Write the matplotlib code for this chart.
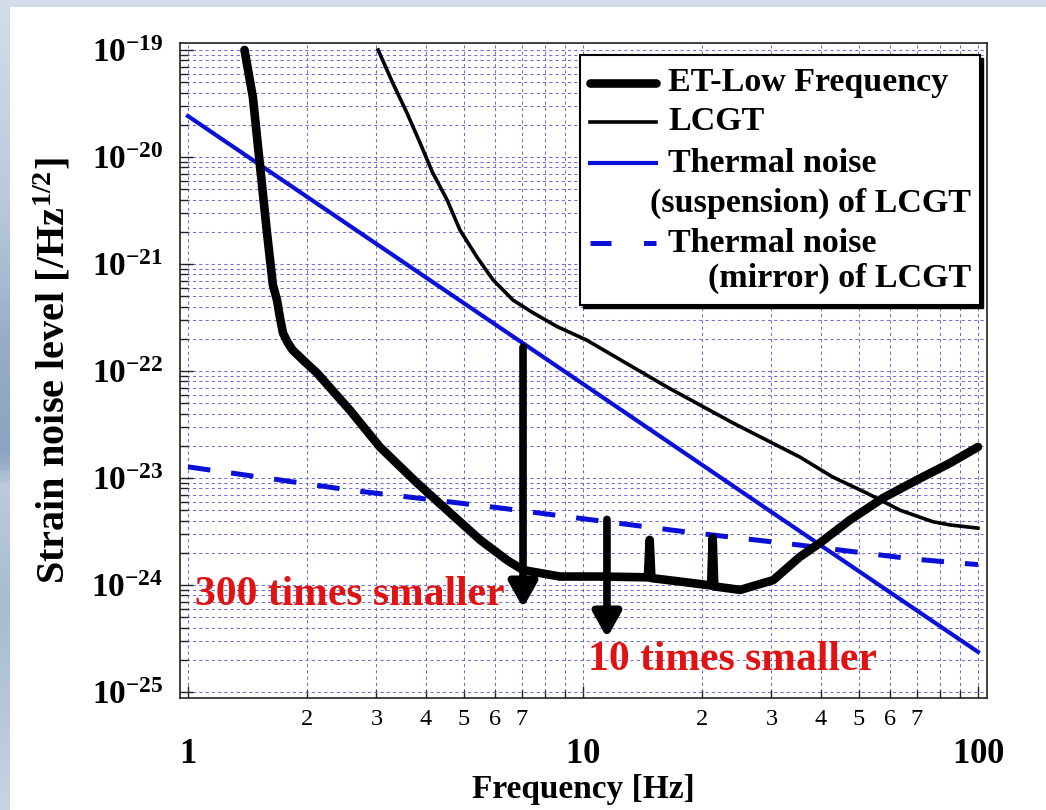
import numpy as np
import matplotlib
matplotlib.use('Agg')
import matplotlib.pyplot as plt
from matplotlib.ticker import FixedLocator, FuncFormatter, NullFormatter
from matplotlib.patches import Rectangle
from matplotlib.colors import LinearSegmentedColormap

plt.rcParams['font.family'] = ['Liberation Serif', 'DejaVu Serif']
plt.rcParams['mathtext.fontset'] = 'custom'
plt.rcParams['mathtext.rm'] = 'Liberation Serif:bold'
plt.rcParams['mathtext.it'] = 'Liberation Serif:bold'
plt.rcParams['mathtext.bf'] = 'Liberation Serif:bold'
plt.rcParams['mathtext.default'] = 'rm'

# ET low frequency sensitivity
et_freq = [1.39, 1.46, 1.52, 1.585, 1.64, 1.68, 1.71, 1.74, 1.79, 1.84, 1.98,
           2.12, 2.57, 3.06, 3.80, 4.53, 5.49, 6.42, 7.05, 8.74, 11.0, 14.6,
           14.75, 14.9, 17.5, 21.1, 21.3, 21.5, 25.0, 30.3, 35.4, 39.8, 47.4,
           57.5, 70.1, 85.0, 100.0]
et_noise = [1.0e-19, 3.6e-20, 8.6e-21, 1.95e-21, 6.4e-22, 4.6e-22, 3.13e-22,
            2.26e-22, 1.83e-22, 1.57e-22, 1.21e-22, 9.6e-23, 4.3e-23, 1.95e-23,
            9.0e-24, 5.0e-24, 2.64e-24, 1.71e-24, 1.38e-24, 1.2e-24, 1.2e-24,
            1.18e-24, 2.64e-24, 1.16e-24, 1.08e-24, 9.9e-25, 2.75e-24, 9.7e-25,
            9.0e-25, 1.11e-24, 1.83e-24, 2.47e-24, 4.05e-24, 6.5e-24, 9.6e-24,
            1.38e-23, 1.95e-23]

# LCGT sensitivity
lcgt_freq = [3.03, 3.30, 3.58, 3.87, 4.15, 4.53, 4.88, 5.39, 5.92, 6.65, 7.47,
             8.60, 10.2, 16.3, 24.0, 35.4, 42.9, 52.4, 63.5, 76.9, 85.0, 100.0]
lcgt_noise = [1.0e-19, 4.9e-20, 2.6e-20, 1.35e-20, 7.3e-21, 3.96e-21, 2.08e-21,
              1.16e-21, 7.1e-22, 4.6e-22, 3.5e-22, 2.6e-22, 1.95e-22, 7.1e-23,
              3.26e-23, 1.57e-23, 1.02e-23, 7.2e-24, 5.0e-24, 3.9e-24, 3.64e-24,
              3.4e-24]

# suspension thermal noise of LCGT
susp_freq = [1.0, 3.0, 10.0, 30.0, 100.0]
susp_noise = [2.41e-20, 1.54e-21, 7.57e-23, 4.81e-24, 2.37e-25]

# mirror thermal noise of LCGT
mirr_freq = [1.0, 1.64, 2.57, 3.94, 6.16, 9.67, 18.3, 35.4, 68.4, 100.0]
mirr_noise = [1.27e-23, 9.8e-24, 7.7e-24, 6.4e-24, 5.25e-24, 4.23e-24,
              3.13e-24, 2.36e-24, 1.75e-24, 1.55e-24]

# improvement arrows
arrow_freq = [7.05, 11.5]
arrow_top = [1.67e-22, 4.1e-24]
arrow_tip = [6.1e-25, 3.2e-25]
note_text = ['300 times smaller', '10 times smaller']
note_freq = [1.04, 10.3]
note_noise = [8.1e-25, 2.0e-25]

legend_rows = ['ET-Low Frequency', 'LCGT', 'Thermal noise', 'Thermal noise']
legend_sub = ['(suspension) of LCGT', '(mirror) of LCGT']

x_major = [1, 10, 100]
x_minor = [m * d for d in (1, 10) for m in range(2, 10)]
y_exps = list(range(-25, -18))
y_minor = [m * 10.0 ** e for e in range(-25, -19) for m in range(2, 10)]

W, H = 1046, 810
fig = plt.figure(figsize=(W / 100, H / 100), dpi=100)
fig.patch.set_facecolor('white')

# slide background: thin bluish strips at the top and on the left
fig.patches.append(Rectangle((0, (H - 7) / H), 1, 7 / H, transform=fig.transFigure,
                             facecolor='#d3dde9', edgecolor='none', zorder=-5))
strip = fig.add_axes([0, 0, 10 / W, 1], zorder=-4)
cmap = LinearSegmentedColormap.from_list('strip', [
    (0.0, '#d3dde9'), (0.25, '#b9c9db'), (0.42, '#97adc8'), (0.56, '#8aa3c0'),
    (0.6, '#bccbdc'), (0.75, '#a7bbd1'), (1.0, '#c6d3e2')])
strip.imshow(np.linspace(0, 1, 200)[:, None], aspect='auto', cmap=cmap,
             extent=[0, 1, 0, 1], origin='upper')
strip.axis('off')

ax = fig.add_axes([180 / W, (H - 698) / H, 807 / W, 655 / H], zorder=2)
ax.set_xscale('log')
ax.set_yscale('log')
ax.set_xlim(0.9545, 105.4)
ax.set_ylim(10 ** -25.056, 10 ** -18.935)

ax.plot(et_freq, et_noise, color='black', lw=6.2, solid_joinstyle='round',
        solid_capstyle='round', zorder=4)
ax.plot(lcgt_freq, lcgt_noise, color='black', lw=2.6, zorder=4)
ax.plot(susp_freq, susp_noise, color='#0a10d8', lw=3.0, zorder=3)
ax.plot(mirr_freq, mirr_noise, color='#0a10d8', lw=3.6, dashes=(4.5, 4.2), zorder=3)

for f, top, tip in zip(arrow_freq, arrow_top, arrow_tip):
    ax.annotate('', xy=(f, tip), xytext=(f, top),
                arrowprops=dict(arrowstyle='-|>,head_length=0.75,head_width=0.42',
                                mutation_scale=20, lw=5.5, color='black',
                                shrinkA=0, shrinkB=0), zorder=5)

for txt, f, n in zip(note_text, note_freq, note_noise):
    ax.text(f, n, txt, color='#e01212', fontsize=30, fontweight='bold',
            ha='left', va='center', zorder=6)

# grid and ticks
ax.xaxis.set_major_locator(FixedLocator(x_major))
ax.xaxis.set_minor_locator(FixedLocator(x_minor))
ax.yaxis.set_major_locator(FixedLocator([10.0 ** e for e in y_exps]))
ax.yaxis.set_minor_locator(FixedLocator(y_minor))
ax.xaxis.set_major_formatter(FuncFormatter(lambda v, p: '$%d$' % round(v)))


def minor_x(v, p):
    m = int(round(v / 10 ** np.floor(np.log10(v) + 1e-9)))
    return str(m) if 2 <= m <= 7 else ''


ax.xaxis.set_minor_formatter(FuncFormatter(minor_x))
ax.yaxis.set_major_formatter(FuncFormatter(
    lambda v, p: '$10^{%d}$' % round(np.log10(v))))
ax.yaxis.set_minor_formatter(NullFormatter())

ax.tick_params(which='both', direction='in', top=False, right=False,
               color='#222222', width=1.0)
ax.tick_params(which='major', length=9)
ax.tick_params(which='minor', length=6)
ax.tick_params(axis='x', which='major', labelsize=25, pad=29)
ax.tick_params(axis='x', which='minor', labelsize=17.5, pad=8)
ax.tick_params(axis='y', which='major', labelsize=24, pad=12)

ax.set_axisbelow(True)
ax.grid(True, which='both', color='#6e6ed8', lw=0.75, linestyle=(0, (3, 3)))
for s in ax.spines.values():
    s.set_linewidth(1.2)
    s.set_color('#222222')

ax.set_xlabel('Frequency [Hz]', fontsize=24, fontweight='bold', labelpad=2)
ax.set_ylabel('Strain noise level [/Hz$^{1/2}$]', fontsize=29,
              fontweight='bold', labelpad=13)


# legend drawn by hand (two-line labels with right-aligned second line)
def axp(x, y):
    return (x - 180) / 807, (698 - y) / 655


x0, y0 = axp(580, 305)
x1, y1 = axp(980, 55)
sx, sy = 3 / 807, 3 / 655
ax.add_patch(Rectangle((x0 + sx, y0 - sy), x1 - x0, y1 - y0, transform=ax.transAxes,
                       facecolor='black', edgecolor='black', zorder=7))
ax.add_patch(Rectangle((x0, y0), x1 - x0, y1 - y0, transform=ax.transAxes,
                       facecolor='white', edgecolor='black', lw=1.5, zorder=8))

handle_styles = [dict(color='black', lw=6.2, solid_capstyle='round'),
                 dict(color='black', lw=2.6),
                 dict(color='#0a10d8', lw=3.0),
                 dict(color='#0a10d8', lw=3.6, dashes=(4.2, 6.5))]
row_y = [83, 122, 163, 243]
for lab, st, ry in zip(legend_rows, handle_styles, row_y):
    hx0, hy = axp(590, ry)
    hx1, _ = axp(656, ry)
    ax.plot([hx0, hx1], [hy, hy], transform=ax.transAxes, clip_on=False,
            zorder=9, **st)
    tx, ty = axp(668, ry)
    ax.text(tx, ty, lab, transform=ax.transAxes, fontsize=24.5, fontweight='bold',
            ha='left', va='center', zorder=9)
for lab, ry in zip(legend_sub, [203, 278]):
    tx, ty = axp(971, ry)
    ax.text(tx, ty, lab, transform=ax.transAxes, fontsize=24.5, fontweight='bold',
            ha='right', va='center', zorder=9)

fig.savefig('out.png', dpi=100, facecolor=fig.get_facecolor())
